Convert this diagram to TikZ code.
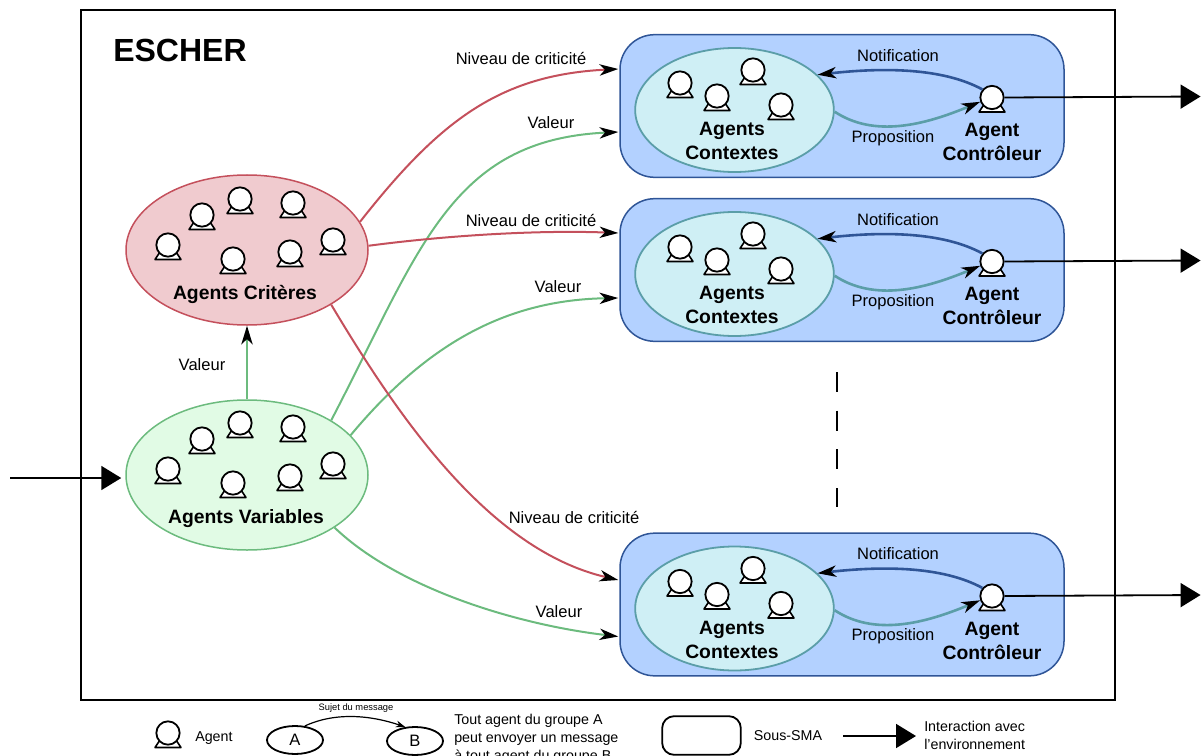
\documentclass[tikz,border=0pt]{standalone}
\usepackage{fontspec}
\setmainfont{Liberation Sans}
\usetikzlibrary{shapes.geometric,calc,arrows.meta}
\definecolor{smafill}{HTML}{B3D1FF}
\definecolor{smaline}{HTML}{2F5597}
\definecolor{ctxfill}{HTML}{CFEFF5}
\definecolor{ctxline}{HTML}{5B9EA8}
\definecolor{critfill}{HTML}{F0CBCF}
\definecolor{critline}{HTML}{C4505C}
\definecolor{varfill}{HTML}{E1FBE5}
\definecolor{varline}{HTML}{6CBB7E}
\tikzset{
	px/.style={line width=#1*0.75pt},
	agenthead/.style={circle,draw,fill=white,px=1.8,inner sep=0pt,minimum size=17.5pt},
	agent/.pic={
		\draw[px=1.6,fill=white,line join=round] (-13,14.5) -- (-8,7) -- (8,7) -- (13,14.5) -- cycle;
		\node[agenthead] (-head) at (0,0) {};
	},
	group/.style={ellipse,draw,px=1.5,inner sep=0pt,minimum width=181.5pt,minimum height=112.5pt},
	sma/.style={rectangle,draw=smaline,fill=smafill,px=1.5,rounded corners=26pt,minimum width=333pt,minimum height=107pt},
	ctx/.style={ellipse,draw=ctxline,fill=ctxfill,px=1.8,inner sep=0pt,minimum width=149pt,minimum height=93pt},
	msg/.style={-{Stealth[length=14pt,width=8.5pt,inset=4pt,black]},px=2},
	extern/.style={-{Triangle[length=15pt,width=18pt]},px=1.8},
	lab/.style={font=\fontsize{12.4}{14}\selectfont,inner sep=0pt},
	boldlab/.style={font=\fontsize{14.5}{18}\selectfont\bfseries,align=center,inner sep=0pt},
	leg/.style={font=\fontsize{10.7}{13.5}\selectfont,inner sep=0pt,align=left},
}
\begin{document}
\begin{tikzpicture}[x=0.75pt,y=-0.75pt]
	\useasboundingbox (0,0) rectangle (1202,756);
	\clip (0,0) rectangle (1202,756);
	\node[draw,px=1.3,minimum width=775.5pt,minimum height=517.5pt,inner sep=0pt] (escher) at (598,355) {};
	\node[anchor=west,font=\fontsize{24}{28}\selectfont\bfseries,inner sep=0pt] (title) at (113,50) {ESCHER};

	% groupes d'agents
	\node[group,draw=critline,fill=critfill] (crit) at (247,250) {};
	\node[group,draw=varline,fill=varfill] (var) at (247,475) {};
	\foreach \x/\y[count=\xi] in {168/245,202/215,240/199,293/203,333/240,290/252,233/259}{
		\pic (crit-\xi) at (\x,\y) {agent};
		\pic (var-\xi) at (\x,\y+224) {agent};
	}
	\node[boldlab] (crit-lab) at (245,294.5) {Agents Critères};
	\node[boldlab] (var-lab) at (246,518.5) {Agents Variables};

	% sous-SMA
	\foreach \i/\dy in {1/0,2/164,3/498.5}{
		\node[sma] (sma\i) at (842,106+\dy) {};
		\node[ctx] (ctx\i) at (734.5,110+\dy) {};
		\foreach \x/\y[count=\xi] in {680/83,717/96,753/70,781/105}{
			\pic (ctx\i-\xi) at (\x,\y+\dy) {agent};
		}
		\pic (ctrl\i) at (992,97.5+\dy) {agent};
		\node[boldlab] (ctx\i-lab) at (732,141+\dy) {Agents\\Contextes};
		\node[boldlab] (ctrl\i-lab) at (992,142+\dy) {Agent\\Contrôleur};
		\draw[msg,draw=smaline,px=2.6] (ctrl\i-head.140) .. controls ($(ctrl\i-head)+(-50,-30)$) and ($(ctrl\i-head)+(-110,-30)$) .. (ctx\i.23);
		\draw[msg,draw=ctxline,px=2.6] (ctx\i.-1) .. controls ($(ctx\i)+(140,28)$) and ($(ctx\i)+(190,15)$) .. (ctrl\i-head.200);
		\node[lab] (notif\i) at (898,55.5+\dy) {Notification};
		\node[lab] (prop\i) at (893,138+\dy) {Proposition};
		\draw[extern] (ctrl\i-head.east) -- ++(196,-1) coordinate (out\i);
	}

	% messages
	\draw[msg,draw=critline] (crit.14) .. controls (440,120) and (500,75) .. ($(sma1.west)+(-1,-37)$);
	\draw[msg,draw=varline] (var.33) .. controls (420,250) and (450,140) .. ($(sma1.west)+(-1,26)$);
	\draw[msg,draw=critline] (crit.2) .. controls (450,235) and (540,230) .. ($(sma2.west)+(-1,-37)$);
	\draw[msg,draw=varline] (var.21) .. controls (430,340) and (510,300) .. ($(sma2.west)+(-1,28)$);
	\draw[msg,draw=critline] (crit.-33) .. controls (400,420) and (490,550) .. ($(sma3.west)+(-1,-24.5)$);
	\draw[msg,draw=varline] (var.-31) .. controls (400,590) and (520,625) .. ($(sma3.west)+(-1,32)$);
	\draw[msg,draw=varline] (var.north) -- (crit.south);
	\node[lab] (val0) at (202,364.5) {Valeur};
	\node[lab] (n1) at (521,58.5) {Niveau de criticité};
	\node[lab] (v1) at (551,122.5) {Valeur};
	\node[lab] (n2) at (531,220.5) {Niveau de criticité};
	\node[lab] (v2) at (558,286.5) {Valeur};
	\node[lab] (n3) at (574,517.5) {Niveau de criticité};
	\node[lab] (v3) at (559,611.5) {Valeur};

	\coordinate (in) at (10,478);
	\draw[extern] (in) -- ($(var.west)+(-4,3)$);
	\draw[px=2,dash pattern=on 15pt off 14pt] (837,372) -- (837,507);

	% legende
	\pic (leg-agent) at (168,733) {agent};
	\node[leg,anchor=west] (leg-agent-lab) at (195,738) {Agent};
	\node[ellipse,draw,px=1.8,inner sep=0pt,minimum width=42pt,minimum height=21pt,font=\fontsize{12.4}{14}\selectfont] (a) at (295,740) {A};
	\node[ellipse,draw,px=1.8,inner sep=0pt,minimum width=42pt,minimum height=21pt,font=\fontsize{12.4}{14}\selectfont] (b) at (415,741) {B};
	\draw[-{Stealth[length=7pt,width=5pt]},px=1.2] (a.55) .. controls (335,712) and (370,715) .. (b.125);
	\node[font=\fontsize{7}{8}\selectfont,inner sep=0pt] (sujet) at (356,708) {Sujet du message};
	\node[leg,anchor=north west] (leg-txt) at (454,714) {Tout agent du groupe A\\peut envoyer un message\\à tout agent du groupe B};
	\node[draw,px=1.8,rounded corners=9pt,minimum width=59pt,minimum height=29pt,inner sep=0pt] (leg-sma) at (701.5,735.5) {};
	\node[leg] (leg-sma-lab) at (788,736) {Sous-SMA};
	\coordinate (leg-in) at (843,736);
	\coordinate (leg-out) at (916,736);
	\draw[extern] (leg-in) -- (leg-out);
	\node[leg,anchor=west] (leg-int) at (924,735) {Interaction avec\\l'environnement};
\end{tikzpicture}
\end{document}
